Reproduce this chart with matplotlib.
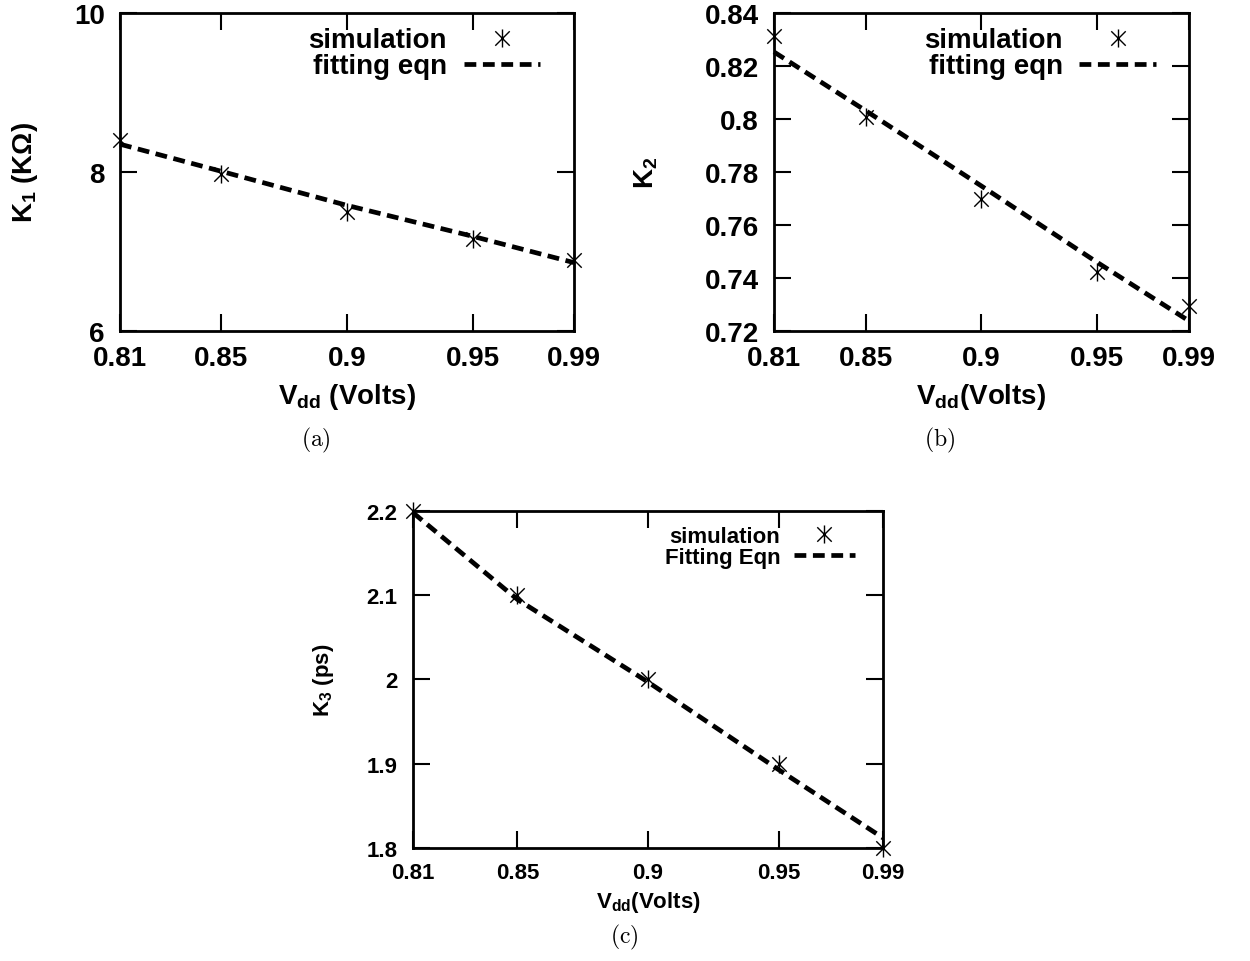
import numpy as np
import matplotlib
matplotlib.use('Agg')
import matplotlib.pyplot as plt
from matplotlib.path import Path

# ---------------------------------------------------------------
# data
# ---------------------------------------------------------------
vdd = [0.81, 0.85, 0.90, 0.95, 0.99]
vdd_labels = ['0.81', '0.85', '0.9', '0.95', '0.99']

k1_sim = [8.40, 7.98, 7.50, 7.16, 6.89]
k1_fit = [8.35, 8.01, 7.58, 7.19, 6.86]

k2_sim = [0.8313, 0.8008, 0.7698, 0.7423, 0.7294]
k2_fit = [0.8253, 0.8030, 0.7747, 0.7460, 0.7238]

k3_sim = [2.20, 2.10, 2.00, 1.90, 1.80]
k3_fit = [2.198, 2.095, 1.997, 1.893, 1.812]

k1_ticks = [6, 8, 10]
k1_tick_labels = ['6', '8', '10']
k2_ticks = [0.72, 0.74, 0.76, 0.78, 0.80, 0.82, 0.84]
k2_tick_labels = ['0.72', '0.74', '0.76', '0.78', '0.8', '0.82', '0.84']
k3_ticks = [1.8, 1.9, 2.0, 2.1, 2.2]
k3_tick_labels = ['1.8', '1.9', '2', '2.1', '2.2']

# ---------------------------------------------------------------
# fonts
# ---------------------------------------------------------------
FONT = 'Liberation Sans'
plt.rcParams['font.family'] = [FONT, 'DejaVu Sans']
plt.rcParams['font.weight'] = 'bold'
plt.rcParams['axes.labelweight'] = 'bold'
plt.rcParams['mathtext.fontset'] = 'custom'
plt.rcParams['mathtext.rm'] = FONT + ':bold'
plt.rcParams['mathtext.it'] = FONT + ':bold'
plt.rcParams['mathtext.bf'] = FONT + ':bold'

# gnuplot-style star: vertical bar + diagonal cross
STAR = Path([(0, -1), (0, 1), (-0.8, -0.8), (0.8, 0.8), (-0.8, 0.8), (0.8, -0.8)],
            [Path.MOVETO, Path.LINETO] * 3)

W, H = 1250, 962
fig = plt.figure(figsize=(W / 100, H / 100), dpi=100)


def px_axes(left, right, top, bottom):
    return fig.add_axes([left / W, 1 - bottom / H, (right - left) / W, (bottom - top) / H])


def style_axes(ax, fs):
    for s in ax.spines.values():
        s.set_linewidth(2)
    ax.tick_params(direction='in', length=12, width=1.5, top=True, right=True,
                   labelsize=fs)
    ax.tick_params(axis='x', pad=10)
    ax.tick_params(axis='y', pad=11)
    ax.set_xlim(0.81, 0.99)
    ax.set_xticks(vdd, vdd_labels)


def draw(ax, sim, fit, labels, fs, anchor):
    ax.plot(vdd, sim, linestyle='none', marker=STAR, markersize=13,
            mew=1.0, color='black', label=labels[0], clip_on=False, zorder=4)
    ax.plot(vdd, fit, linestyle=(0, (2.5, 1.4)), lw=3.4, color='black',
            label=labels[1], clip_on=False, zorder=3)
    ax.legend(loc='upper right', bbox_to_anchor=anchor, frameon=False,
              markerfirst=False, fontsize=fs, borderaxespad=0, borderpad=0,
              handlelength=2.75, handletextpad=0.6, labelspacing=0.0)


# (a)
ax1 = px_axes(120, 574, 14, 332)
style_axes(ax1, 20)
draw(ax1, k1_sim, k1_fit, ['simulation', 'fitting eqn'], 20, (0.925, 0.955))
ax1.set_ylim(6, 10)
ax1.set_yticks(k1_ticks, k1_tick_labels)
ax1.set_xlabel(r'V$_{\mathrm{dd}}$ (Volts)', fontsize=20, va='center')
ax1.xaxis.set_label_coords(0.5, -0.204)
ax1.set_ylabel(r'K$_{\mathrm{1}}$ (KΩ)', fontsize=20, va='center')
ax1.yaxis.set_label_coords(-0.209, 0.5)

# (b)
ax2 = px_axes(774, 1189, 14, 332)
style_axes(ax2, 20)
draw(ax2, k2_sim, k2_fit, ['simulation', 'fitting eqn'], 20, (0.92, 0.955))
ax2.set_ylim(0.72, 0.84)
ax2.set_yticks(k2_ticks, k2_tick_labels)
ax2.set_xlabel(r'V$_{\mathrm{dd}}$(Volts)', fontsize=20, va='center')
ax2.xaxis.set_label_coords(0.5, -0.204)
ax2.set_ylabel(r'K$_{\mathrm{2}}$', fontsize=20, va='center')
ax2.yaxis.set_label_coords(-0.308, 0.5)

# (c)
ax3 = px_axes(413, 883, 512, 849)
style_axes(ax3, 16)
draw(ax3, k3_sim, k3_fit, ['simulation', 'Fitting Eqn'], 16, (0.94, 0.955))
ax3.set_ylim(1.8, 2.2)
ax3.set_yticks(k3_ticks, k3_tick_labels)
ax3.set_xlabel(r'V$_{\mathrm{dd}}$(Volts)', fontsize=16, va='center')
ax3.xaxis.set_label_coords(0.5, -0.16)
ax3.set_ylabel(r'K$_{\mathrm{3}}$ (ps)', fontsize=16, va='center')
ax3.yaxis.set_label_coords(-0.19, 0.5)

# sub-captions
for x, y, s in [(316, 440, '(a)'), (940, 440, '(b)'), (624, 937, '(c)')]:
    fig.text(x / W, 1 - y / H, r'$\mathrm{' + s + '}$', math_fontfamily='cm',
             fontsize=17, ha='center', va='center')

fig.savefig('out.png', dpi=100, facecolor='white')
